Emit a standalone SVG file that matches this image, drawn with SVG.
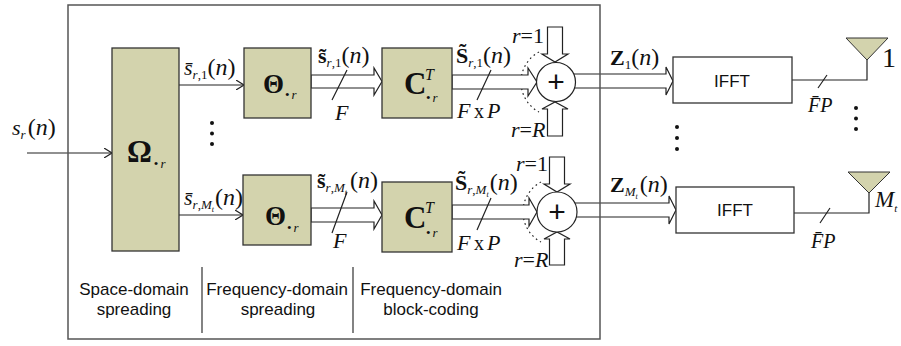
<svg xmlns="http://www.w3.org/2000/svg" width="901" height="346" viewBox="0 0 901 346">
<defs>
<style>
.box{fill:#D3D3AD;stroke:#333;stroke-width:1.3}
.wbox{fill:#fff;stroke:#333;stroke-width:1.3}
.ln{fill:none;stroke:#222;stroke-width:1.2}
.darr{fill:#fff;stroke:#222;stroke-width:1.2}
.dot{fill:#111}
.m{font-family:"Liberation Serif","Times New Roman",serif;font-size:22px;fill:#111}
.p{font-size:24px}
.i{font-style:italic}
.b{font-weight:bold}
.sub{font-size:13px}
.ss{font-size:8px}
.lab{font-family:"Liberation Sans",Arial,sans-serif;font-size:17px;fill:#111}
.ant{fill:#D3D3AD;stroke:#333;stroke-width:1}
</style>
<marker id="open" viewBox="0 0 8 10" refX="8" refY="5" markerWidth="8" markerHeight="10" markerUnits="userSpaceOnUse" orient="auto">
<path d="M0,0 L8,5 L0,10" fill="none" stroke="#222" stroke-width="1.2"/>
</marker>
</defs>
<rect width="901" height="346" fill="#fff"/>

<g id="connectors">
<path class="ln" d="M27,153 H112" marker-end="url(#open)"/>
<path class="ln" d="M179,85 H244" marker-end="url(#open)"/>
<path class="ln" d="M179,215 H243" marker-end="url(#open)"/>
<path class="ln" d="M539,52 A34,34 0 0 0 539,112" stroke-dasharray="1.6 3.2" stroke-width="2"/>
<path class="ln" d="M541,182 A34,34 0 0 0 541,242" stroke-dasharray="1.6 3.2" stroke-width="2"/>
<polygon class="darr" points="311,75 374,75 374,68 382,81.5 374,95 374,88 311,88"/>
<polygon class="darr" points="452,75 528,75 528,68 537,82 528,96 528,89 452,89"/>
<polygon class="darr" points="570,74 666,74 666,67 673,81 666,95 666,88 570,88"/>
<polygon class="darr" points="311,208 374,208 374,201 382,215 374,229 374,222 311,222"/>
<polygon class="darr" points="452,205 529,205 529,198 537,212 529,226 529,219 452,219"/>
<polygon class="darr" points="572,203 669,203 669,196 676,210 669,224 669,217 572,217"/>
<polygon class="darr" points="547.5,27 562.5,27 562.5,54 568,54 555,62 542,54 547.5,54"/>
<polygon class="darr" points="547.5,136 562.5,136 562.5,109 568,109 555,102 542,109 547.5,109"/>
<polygon class="darr" points="549.5,157 564.5,157 564.5,184 570,184 557,192 544,184 549.5,184"/>
<polygon class="darr" points="549.5,265 564.5,265 564.5,239 570,239 557,232 544,239 549.5,239"/>
<path class="ln" d="M347,70 L332,100 M491,70 L477,100 M347,192 L332,233 M491,198 L477,230 M827,75 L818,88 M830,208 L820,223"/>
<path class="ln" d="M792,80 H867 V60 M794,213 H869 V193"/>
</g>

<g id="frame">
<rect x="68" y="5" width="532" height="334" fill="none" stroke="#555" stroke-width="1.5"/>
<path d="M202,267 V333 M353,267 V333" stroke="#333" stroke-width="1.2"/>
<text class="lab" text-anchor="middle" x="134" y="295">Space-domain</text>
<text class="lab" text-anchor="middle" x="134" y="315">spreading</text>
<text class="lab" text-anchor="middle" x="277" y="295">Frequency-domain</text>
<text class="lab" text-anchor="middle" x="278" y="315">spreading</text>
<text class="lab" text-anchor="middle" x="431" y="295">Frequency-domain</text>
<text class="lab" text-anchor="middle" x="431" y="315">block-coding</text>
</g>

<g id="omega">
<rect class="box" x="112" y="48" width="67" height="203"/>
<text class="m b" x="127" y="162" style="font-size:31px">Ω<tspan class="sub" style="font-weight:normal" dx="2" dy="6">•<tspan class="i" dx="2">r</tspan></tspan></text>
</g>

<g id="theta1">
<rect class="box" x="244" y="48" width="67" height="70"/>
<text class="m b" x="263" y="93" style="font-size:27px">Θ<tspan class="sub" style="font-weight:normal" dx="1" dy="6">•<tspan class="i" dx="2">r</tspan></tspan></text>
</g>
<g id="theta2">
<rect class="box" x="243" y="175" width="68" height="70"/>
<text class="m b" x="265" y="225" style="font-size:27px">Θ<tspan class="sub" style="font-weight:normal" dx="1" dy="7">•<tspan class="i" dx="2">r</tspan></tspan></text>
</g>

<g id="c1">
<rect class="box" x="382" y="48" width="70" height="70"/>
<text class="m b" x="404" y="94" style="font-size:31px">C</text>
<text class="m i" x="425" y="80" style="font-size:16px">T</text>
<text class="m sub" x="426" y="102">•<tspan class="i" dx="2">r</tspan></text>
</g>
<g id="c2">
<rect class="box" x="382" y="182" width="70" height="70"/>
<text class="m b" x="404" y="228" style="font-size:31px">C</text>
<text class="m i" x="425" y="213" style="font-size:16px">T</text>
<text class="m sub" x="426" y="237">•<tspan class="i" dx="2">r</tspan></text>
</g>

<g id="adder1">
<circle cx="556" cy="82" r="19.5" fill="#fff" stroke="#222" stroke-width="1.2"/>
<text class="lab" text-anchor="middle" x="556" y="92" style="font-size:30px">+</text>
</g>
<g id="adder2">
<circle cx="557" cy="212" r="20" fill="#fff" stroke="#222" stroke-width="1.2"/>
<text class="lab" text-anchor="middle" x="557" y="222" style="font-size:30px">+</text>
</g>

<g id="ifft1">
<rect class="wbox" x="673" y="57" width="119" height="46"/>
<text class="lab" text-anchor="middle" x="732" y="87">IFFT</text>
</g>
<g id="ifft2">
<rect class="wbox" x="676" y="187" width="118" height="46"/>
<text class="lab" text-anchor="middle" x="735" y="216">IFFT</text>
</g>

<g id="antenna1">
<polygon class="ant" points="846,38 888,38 867,60"/>
<text class="m" x="882" y="67" style="font-size:28px">1</text>
</g>
<g id="antenna2">
<polygon class="ant" points="848,172 890,172 869,193"/>
<text class="m i" x="875" y="207" style="font-size:23px">M<tspan style="font-size:11px" dy="5">t</tspan></text>
</g>

<g id="labels">
<text class="m" x="12" y="135"><tspan class="i">s</tspan><tspan class="sub i" dy="4">r</tspan><tspan class="p" dy="-4" dx="2">(<tspan class="i">n</tspan>)</tspan></text>
<text class="m" x="184" y="75"><tspan class="i">s̄</tspan><tspan class="sub" dy="4"><tspan class="i">r</tspan>,1</tspan><tspan class="p" dy="-4" dx="0">(<tspan class="i">n</tspan>)</tspan></text>
<text class="m" x="184" y="205"><tspan class="i">s̄</tspan><tspan class="sub" dy="4"><tspan class="i">r</tspan>,<tspan class="i">M</tspan><tspan class="ss i" dy="3">t</tspan></tspan><tspan class="p" dy="-7" dx="1">(<tspan class="i">n</tspan>)</tspan></text>
<text class="m" x="318" y="63"><tspan class="b">s̃</tspan><tspan class="sub" dy="4"><tspan class="i">r</tspan>,1</tspan><tspan class="p" dy="-4" dx="0">(<tspan class="i">n</tspan>)</tspan></text>
<text class="m" x="317" y="188"><tspan class="b">s̃</tspan><tspan class="sub" dy="4"><tspan class="i">r</tspan>,<tspan class="i">M</tspan><tspan class="ss i" dy="3">t</tspan></tspan><tspan class="p" dy="-7" dx="3">(<tspan class="i">n</tspan>)</tspan></text>
<text class="m" x="456" y="63"><tspan class="b">S̃</tspan><tspan class="sub" dy="4"><tspan class="i">r</tspan>,1</tspan><tspan class="p" dy="-4" dx="0">(<tspan class="i">n</tspan>)</tspan></text>
<text class="m" x="455" y="190"><tspan class="b">S̃</tspan><tspan class="sub" dy="4"><tspan class="i">r</tspan>,<tspan class="i">M</tspan><tspan class="ss i" dy="3">t</tspan></tspan><tspan class="p" dy="-7" dx="1">(<tspan class="i">n</tspan>)</tspan></text>
<text class="m i" x="335" y="120">F</text>
<text class="m i" x="333" y="248">F</text>
<text class="m" x="457" y="118"><tspan class="i">F</tspan><tspan x="474" style="font-size:20px">x</tspan><tspan class="i" x="487">P</tspan></text>
<text class="m" x="457" y="250"><tspan class="i">F</tspan><tspan x="474" style="font-size:20px">x</tspan><tspan class="i" x="487">P</tspan></text>
<text class="m" x="610" y="65"><tspan class="b">Z</tspan><tspan class="sub" dy="4">1</tspan><tspan class="p" dy="-4">(<tspan class="i">n</tspan>)</tspan></text>
<text class="m" x="610" y="192"><tspan class="b">Z</tspan><tspan class="sub i" dy="4">M<tspan class="ss" dy="3">t</tspan></tspan><tspan class="p" dy="-7" dx="2">(<tspan class="i">n</tspan>)</tspan></text>
<text class="m i" x="808" y="112" style="font-size:20px">F̄P</text>
<text class="m i" x="811" y="248" style="font-size:20px">F̄P</text>
<text class="m" x="512" y="43"><tspan class="i">r</tspan>=1</text>
<text class="m" x="511" y="137"><tspan class="i">r</tspan>=<tspan class="i">R</tspan></text>
<text class="m" x="516" y="171"><tspan class="i">r</tspan>=1</text>
<text class="m" x="514" y="267"><tspan class="i">r</tspan>=<tspan class="i">R</tspan></text>
</g>

<g id="ellipses">
<circle class="dot" cx="212" cy="123" r="2"/><circle class="dot" cx="212" cy="133.5" r="2"/><circle class="dot" cx="212" cy="144" r="2"/>
<circle class="dot" cx="677" cy="127" r="2"/><circle class="dot" cx="677" cy="138" r="2"/><circle class="dot" cx="677" cy="149" r="2"/>
<circle class="dot" cx="856" cy="108" r="2"/><circle class="dot" cx="856" cy="118.5" r="2"/><circle class="dot" cx="856" cy="129" r="2"/>
</g>
</svg>
